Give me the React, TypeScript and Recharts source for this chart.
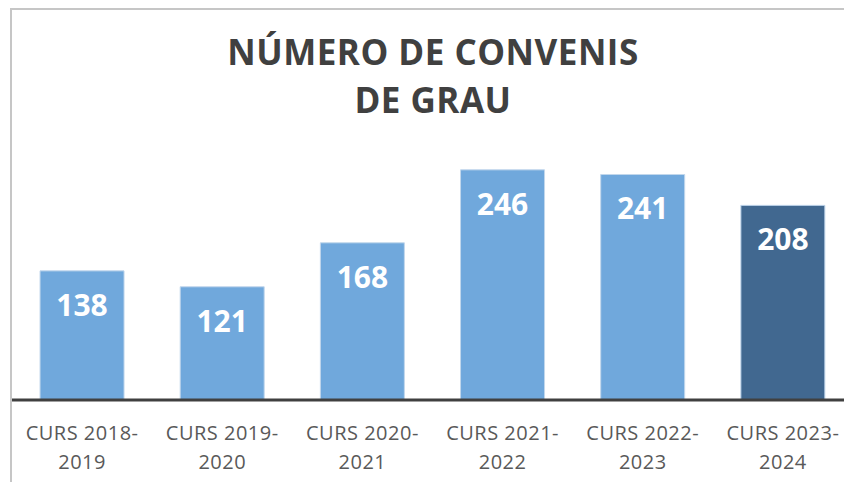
import { Bar, BarChart, Cell, LabelList, XAxis, YAxis } from "recharts";

const categories = [
  "CURS 2018-2019",
  "CURS 2019-2020",
  "CURS 2020-2021",
  "CURS 2021-2022",
  "CURS 2022-2023",
  "CURS 2023-2024",
];
const convenis = [138, 121, 168, 246, 241, 208];
const titleLines = ["NÚMERO DE CONVENIS", "DE GRAU"];

const data = categories.map((curs, i) => ({ curs, value: convenis[i] }));

const FONT = "'Open Sans', sans-serif";

function CursTick(props: any) {
  const { x, y, payload } = props;
  const label: string = payload.value;
  const cut = label.indexOf("-") + 1;
  const first = label.slice(0, cut);
  const second = label.slice(cut);
  return (
    <text
      x={x}
      y={y}
      textAnchor="middle"
      fill="#595959"
      fontFamily={FONT}
      fontSize={20}
      letterSpacing={0.5}
    >
      <tspan x={x} dy={32}>
        {first}
      </tspan>
      <tspan x={x} dy={29}>
        {second}
      </tspan>
    </text>
  );
}

function ValueLabel(props: any) {
  const { x, y, width, value } = props;
  return (
    <text
      x={x + width / 2}
      y={y + 45}
      textAnchor="middle"
      fill="#ffffff"
      fontFamily={FONT}
      fontWeight={700}
      fontSize={30}
    >
      {value}
    </text>
  );
}

export default function App() {
  return (
    <div
      style={{
        position: "absolute",
        left: 0,
        top: 0,
        width: 844,
        height: 482,
        overflow: "hidden",
        background: "#ffffff",
      }}
    >
      <div
        style={{
          position: "absolute",
          left: 10,
          top: 8,
          width: 900,
          height: 520,
          borderLeft: "2px solid #c6c6c6",
          borderTop: "2px solid #c6c6c6",
        }}
      />
      <div
        style={{
          position: "absolute",
          left: 0,
          top: 28,
          width: 866,
          textAlign: "center",
          fontFamily: FONT,
          fontWeight: 700,
          fontSize: 35,
          lineHeight: "48px",
          letterSpacing: 0.5,
          color: "#404040",
        }}
      >
        {titleLines.map((t) => (
          <div key={t}>{t}</div>
        ))}
      </div>
      <div style={{ position: "absolute", left: 0, top: 0 }}>
        <BarChart
          width={870}
          height={482}
          data={data}
          margin={{ top: 138, right: 17, left: 12, bottom: 12 }}
          barCategoryGap="20%"
        >
          <XAxis
            dataKey="curs"
            axisLine={{ stroke: "#404040", strokeWidth: 3 }}
            tickLine={false}
            interval={0}
            height={70}
            tick={<CursTick />}
          />
          <YAxis hide domain={[0, 280]} />
          <Bar dataKey="value" stroke="#c2d7ec" strokeWidth={1} isAnimationActive={false}>
            {data.map((d, i) => (
              <Cell key={d.curs} fill={i === data.length - 1 ? "#416890" : "#70a8dc"} />
            ))}
            <LabelList dataKey="value" content={<ValueLabel />} />
          </Bar>
        </BarChart>
      </div>
    </div>
  );
}
